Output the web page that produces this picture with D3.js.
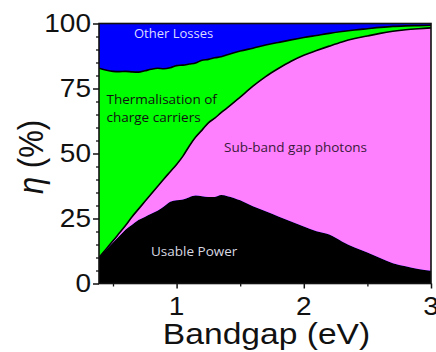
<!DOCTYPE html>
<html>
<head>
<meta charset="utf-8">
<script src="https://cdn.jsdelivr.net/npm/d3@7"></script>
<style>
  html, body { margin: 0; padding: 0; background: #fff; }
  svg { display: block; }
</style>
</head>
<body>
<svg id="chart" width="436" height="352"></svg>
<script>
// Bandgap energies (eV) at which the loss breakdown is given
const bandgap = [0.39, 0.45, 0.5, 0.55, 0.6, 0.65, 0.7, 0.75, 0.8, 0.85, 0.9, 0.95,
  1.0, 1.05, 1.1, 1.15, 1.2, 1.25, 1.3, 1.35, 1.4, 1.5, 1.6, 1.7, 1.8, 1.9,
  2.0, 2.1, 2.2, 2.3, 2.4, 2.5, 2.6, 2.7, 2.8, 2.9, 3.0];

// Share of incident power (%) in each channel
const usablePower = [10.0, 13.2, 15.8, 18.3, 20.8, 22.6, 24.4, 25.6, 26.8, 28.0, 29.6, 31.4,
  32.0, 32.3, 33.2, 33.8, 33.6, 33.3, 33.3, 34.0, 33.6, 32.0, 29.7, 27.8, 25.8, 23.8,
  21.9, 20.1, 18.8, 16.2, 13.8, 11.9, 9.8, 7.8, 6.6, 5.6, 4.9];
const subBandgap = [0.0, 0.3, 0.6, 1.1, 1.6, 3.1, 4.2, 5.9, 7.6, 9.3, 10.6, 11.6,
  13.8, 16.7, 19.7, 22.5, 25.4, 28.5, 30.3, 31.7, 34.0, 39.7, 46.2, 51.8, 56.9, 61.7,
  65.9, 69.5, 72.5, 76.7, 80.4, 83.3, 86.4, 89.2, 91.0, 92.4, 93.4];
const thermalisation = [72.8, 68.5, 65.2, 62.1, 59.2, 55.7, 52.7, 50.3, 48.0, 45.5, 42.4, 40.0,
  38.0, 35.0, 31.5, 28.5, 26.9, 24.4, 23.2, 21.5, 20.4, 17.7, 14.6, 12.1, 10.0, 8.2,
  6.8, 5.8, 4.9, 4.0, 3.3, 2.8, 2.3, 1.9, 1.5, 1.2, 1.0];
const otherLosses = [17.2, 18.0, 18.4, 18.5, 18.4, 18.6, 18.7, 18.2, 17.6, 17.2, 17.4, 17.0,
  16.2, 16.0, 15.6, 15.2, 14.1, 13.8, 13.2, 12.8, 12.0, 10.6, 9.5, 8.3, 7.3, 6.3,
  5.4, 4.6, 3.8, 3.1, 2.5, 2.0, 1.5, 1.1, 0.9, 0.8, 0.7];

const seriesKeys = ["usable", "sub", "therm", "other"];
const seriesColors = { usable: "#000000", sub: "#ff80ff", therm: "#00ff00", other: "#0000ff" };

const xTicks = [1, 2, 3];
const xMinorTicks = [0.5, 1.5, 2.5];
const yTicks = [0, 25, 50, 75, 100];
const yMinorTicks = d3.range(0, 101, 5);

const rows = bandgap.map((e, i) => ({
  e,
  usable: usablePower[i],
  sub: subBandgap[i],
  therm: thermalisation[i],
  other: otherLosses[i]
}));

const svg = d3.select("#chart");
const plot = { left: 99, right: 431, top: 23.5, bottom: 283.5 };

const x = d3.scaleLinear().domain([0.39, 3]).range([plot.left, plot.right]);
const y = d3.scaleLinear().domain([0, 100]).range([plot.bottom, plot.top]);

const stacked = d3.stack().keys(seriesKeys)(rows);

const area = d3.area()
  .x(d => x(d.data.e))
  .y0(d => y(d[0]))
  .y1(d => y(Math.min(100, d[1])))
  .curve(d3.curveMonotoneX);

svg.append("defs").append("clipPath").attr("id", "plotClip")
  .append("rect")
  .attr("x", plot.left).attr("y", plot.top)
  .attr("width", plot.right - plot.left).attr("height", plot.bottom - plot.top);

const g = svg.append("g").attr("clip-path", "url(#plotClip)");

// top layer fills up to 100 %
g.append("rect")
  .attr("x", plot.left).attr("y", plot.top)
  .attr("width", plot.right - plot.left).attr("height", plot.bottom - plot.top)
  .attr("fill", seriesColors.other);

g.selectAll("path.layer")
  .data(stacked.filter(s => s.key !== "other"))
  .join("path")
  .attr("class", "layer")
  .attr("fill", s => seriesColors[s.key])
  .attr("d", area);

// outlines between thermalisation / sub-bandgap and other losses / thermalisation
const edge = d3.line()
  .x(d => x(d.data.e))
  .y(d => y(d[1]))
  .curve(d3.curveMonotoneX);

g.selectAll("path.edge")
  .data(stacked.filter(s => s.key === "sub" || s.key === "therm"))
  .join("path")
  .attr("class", "edge")
  .attr("fill", "none")
  .attr("stroke", "#000")
  .attr("stroke-width", 1.6)
  .attr("d", edge);

// frame
svg.append("rect")
  .attr("x", plot.left).attr("y", plot.top)
  .attr("width", plot.right - plot.left).attr("height", plot.bottom - plot.top)
  .attr("fill", "none").attr("stroke", "#111").attr("stroke-width", 1.6);

const axisFont = "'Liberation Sans', Arial, sans-serif";
const stretch = 1.12;

// y axis
const yAxis = d3.axisLeft(y).tickValues(yTicks).tickSize(6).tickFormat("");
const yAx = svg.append("g").attr("transform", `translate(${plot.left},0)`).call(yAxis);
yAx.select(".domain").remove();
yAx.selectAll(".tick line").attr("stroke", "#111").attr("stroke-width", 1.5);
const yMinor = d3.axisLeft(y).tickValues(yMinorTicks.filter(v => !yTicks.includes(v))).tickSize(3).tickFormat("");
const yMi = svg.append("g").attr("transform", `translate(${plot.left},0)`).call(yMinor);
yMi.select(".domain").remove();
yMi.selectAll(".tick line").attr("stroke", "#111").attr("stroke-width", 1.3);

svg.append("g").selectAll("g")
  .data(yTicks)
  .join("g")
  .attr("transform", d => `translate(91,${y(d) + 8.7}) scale(${stretch},1)`)
  .append("text")
  .attr("text-anchor", "end")
  .attr("font-family", axisFont)
  .attr("font-size", 25)
  .attr("fill", "#111")
  .text(d => d);

// x axis
const xAxis = d3.axisBottom(x).tickValues(xTicks).tickSize(5).tickFormat("");
const xAx = svg.append("g").attr("transform", `translate(0,${plot.bottom})`).call(xAxis);
xAx.select(".domain").remove();
xAx.selectAll(".tick line").attr("stroke", "#111").attr("stroke-width", 1.5);
const xMinor = d3.axisBottom(x).tickValues(xMinorTicks).tickSize(3).tickFormat("");
const xMi = svg.append("g").attr("transform", `translate(0,${plot.bottom})`).call(xMinor);
xMi.select(".domain").remove();
xMi.selectAll(".tick line").attr("stroke", "#111").attr("stroke-width", 1.3);

svg.append("g").selectAll("g")
  .data(xTicks)
  .join("g")
  .attr("transform", d => `translate(${x(d)},315) scale(${stretch},1)`)
  .append("text")
  .attr("text-anchor", "middle")
  .attr("font-family", axisFont)
  .attr("font-size", 25)
  .attr("fill", "#111")
  .text(d => d);

// axis titles
svg.append("g")
  .attr("transform", `translate(266.5,343.5) scale(${stretch},1)`)
  .append("text")
  .attr("text-anchor", "middle")
  .attr("font-family", axisFont)
  .attr("font-size", 30)
  .attr("fill", "#111")
  .text("Bandgap (eV)");

const yTitle = svg.append("g")
  .attr("transform", `translate(43,157) scale(${stretch},1) rotate(-90)`)
  .append("text")
  .attr("text-anchor", "middle")
  .attr("font-family", axisFont)
  .attr("font-size", 31)
  .attr("fill", "#111");
yTitle.append("tspan").attr("font-style", "italic").text("η");
yTitle.append("tspan").text(" (%)");

// region labels
const labelFont = "'Open Sans', sans-serif";
const labels = [
  { lines: ["Other Losses"], x: 134, y: 37.8, color: "#dcdcff", size: 13 },
  { lines: ["Thermalisation of", "charge carriers"], x: 106.5, y: 104, color: "#111", size: 13.5 },
  { lines: ["Sub-band gap photons"], x: 224, y: 151.5, color: "#3a1a3a", size: 13.5 },
  { lines: ["Usable Power"], x: 151, y: 256, color: "#d8d8e0", size: 13.5 }
];
labels.forEach(l => {
  const t = svg.append("text")
    .attr("font-family", labelFont)
    .attr("font-size", l.size)
    .attr("fill", l.color);
  l.lines.forEach((line, i) => {
    t.append("tspan").attr("x", l.x).attr("y", l.y + i * 17.5).text(line);
  });
});
</script>
</body>
</html>
